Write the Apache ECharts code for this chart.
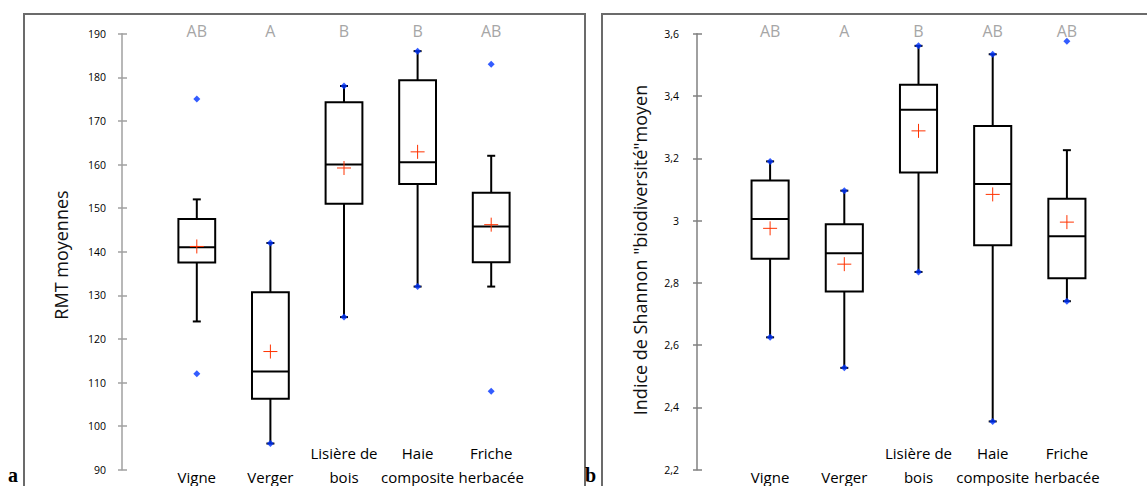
<!DOCTYPE html>
<html>
<head>
<meta charset="utf-8">
<script src="https://cdn.jsdelivr.net/npm/echarts@6/dist/echarts.min.js"></script>
<style>
html,body{margin:0;padding:0;background:#fff;}
#chart{width:1147px;height:486px;}
</style>
</head>
<body>
<div id="chart"></div>
<script>
// ---- Data ----
const categories = ['Vigne', 'Verger', 'Lisière de\nbois', 'Haie\ncomposite', 'Friche\nherbacée'];

// Panel a : RMT moyennes
const rmtLetters = ['AB', 'A', 'B', 'B', 'AB'];
const rmtWhiskerLow = [124, 96, 125, 132, 132];
const rmtQ1 = [137.5, 106.3, 151, 155.5, 137.6];
const rmtMedian = [141, 112.5, 160, 160.5, 145.8];
const rmtQ3 = [147.5, 130.7, 174.3, 179.3, 153.5];
const rmtWhiskerHigh = [152, 142, 178, 186, 162];
const rmtMean = [141.2, 117.1, 159.2, 162.9, 146.2];
const rmtMin = [112, 96, 125, 132, 108];
const rmtMax = [175, 142, 178, 186, 183];
const rmtAxis = { min: 90, max: 190, interval: 10 };

// Panel b : Indice de Shannon
const shLetters = ['AB', 'A', 'B', 'AB', 'AB'];
const shWhiskerLow = [2.625, 2.527, 2.835, 2.355, 2.741];
const shQ1 = [2.877, 2.772, 3.154, 2.921, 2.815];
const shMedian = [3.005, 2.895, 3.356, 3.117, 2.95];
const shQ3 = [3.129, 2.988, 3.436, 3.304, 3.07];
const shWhiskerHigh = [3.19, 3.096, 3.561, 3.534, 3.226];
const shMean = [2.975, 2.86, 3.288, 3.084, 2.995];
const shMin = [2.625, 2.527, 2.835, 2.355, 2.741];
const shMax = [3.19, 3.096, 3.561, 3.534, 3.576];
const shAxis = { min: 2.2, max: 3.6, interval: 0.2 };

const FONT = 'Open Sans';

// ---- Builders ----
function boxData(low, q1, med, q3, high) {
  return categories.map((c, i) => [i, low[i], q1[i], med[i], q3[i], high[i]]);
}
function pointData(mins, maxs) {
  const out = [];
  categories.forEach((c, i) => { out.push([i, maxs[i]]); out.push([i, mins[i]]); });
  return out;
}
function meanData(means) {
  return categories.map((c, i) => [i, means[i]]);
}

function renderBox(params, api) {
  const i = api.value(0);
  const low = api.coord([i, api.value(1)]);
  const q1 = api.coord([i, api.value(2)]);
  const med = api.coord([i, api.value(3)]);
  const q3 = api.coord([i, api.value(4)]);
  const high = api.coord([i, api.value(5)]);
  const bw = api.size([1, 0])[0] * 0.5;
  const x = low[0];
  const cap = 4;
  const st = { stroke: '#000', lineWidth: 2, fill: null };
  return {
    type: 'group',
    children: [
      { type: 'line', shape: { x1: x, y1: high[1], x2: x, y2: q3[1] }, style: st },
      { type: 'line', shape: { x1: x, y1: q1[1], x2: x, y2: low[1] }, style: st },
      { type: 'line', shape: { x1: x - cap, y1: high[1], x2: x + cap, y2: high[1] }, style: st },
      { type: 'line', shape: { x1: x - cap, y1: low[1], x2: x + cap, y2: low[1] }, style: st },
      { type: 'rect', shape: { x: x - bw / 2, y: q3[1], width: bw, height: q1[1] - q3[1] },
        style: { stroke: '#000', lineWidth: 2, fill: '#fff' } },
      { type: 'line', shape: { x1: x - bw / 2, y1: med[1], x2: x + bw / 2, y2: med[1] }, style: st }
    ]
  };
}

function renderMean(params, api) {
  const p = api.coord([api.value(0), api.value(1)]);
  const h = 7;
  const st = { stroke: '#ff3300', lineWidth: 1, fill: null };
  return {
    type: 'group',
    children: [
      { type: 'line', shape: { x1: p[0] - h, y1: p[1], x2: p[0] + h, y2: p[1] }, style: st },
      { type: 'line', shape: { x1: p[0], y1: p[1] - h, x2: p[0], y2: p[1] + h }, style: st }
    ]
  };
}

function fmtComma(v) {
  return String(Math.round(v * 10) / 10).replace('.', ',');
}

function mainY(gridIndex, ax, offset, lineColor, margin, formatter) {
  return {
    type: 'value', gridIndex, min: ax.min, max: ax.max, interval: ax.interval,
    position: 'left', offset,
    splitLine: { show: false },
    axisLine: { show: true, lineStyle: { color: lineColor, width: 1.5 } },
    axisTick: { show: true, inside: false, length: 4, lineStyle: { color: lineColor, width: 1.5 } },
    axisLabel: { show: true, margin, color: '#000', fontSize: 10.5, fontFamily: FONT, formatter }
  };
}
function innerY(gridIndex, ax, offset, lineColor) {
  return {
    type: 'value', gridIndex, min: ax.min, max: ax.max, interval: ax.interval,
    position: 'left', offset,
    splitLine: { show: false },
    axisLine: { show: false },
    axisTick: { show: true, inside: true, length: 5, lineStyle: { color: lineColor, width: 1.5 } },
    axisLabel: { show: false }
  };
}
function bottomX(gridIndex) {
  return {
    type: 'category', gridIndex, data: categories, position: 'bottom',
    axisLine: { show: false }, axisTick: { show: false }, splitLine: { show: false },
    axisLabel: { interval: 0, color: '#000', fontSize: 15, fontFamily: FONT,
      lineHeight: 24, verticalAlign: 'bottom', margin: 19 }
  };
}
function topX(gridIndex, letters) {
  return {
    type: 'category', gridIndex, data: letters, position: 'top',
    axisLine: { show: false }, axisTick: { show: false }, splitLine: { show: false },
    axisLabel: { interval: 0, color: '#a6a6a6', fontSize: 16, fontFamily: FONT,
      verticalAlign: 'middle', margin: 3 }
  };
}

function panelSeries(xIdx, yIdx, low, q1, med, q3, high, means, mins, maxs) {
  return [
    { type: 'custom', xAxisIndex: xIdx, yAxisIndex: yIdx, renderItem: renderBox,
      data: boxData(low, q1, med, q3, high), encode: { x: 0, y: [1, 2, 3, 4, 5] }, z: 2, silent: true },
    { type: 'scatter', xAxisIndex: xIdx, yAxisIndex: yIdx, data: pointData(mins, maxs),
      symbol: 'diamond', symbolSize: 7, itemStyle: { color: '#0033ff' }, z: 3, silent: true },
    { type: 'custom', xAxisIndex: xIdx, yAxisIndex: yIdx, renderItem: renderMean,
      data: meanData(means), encode: { x: 0, y: 1 }, z: 4, silent: true }
  ];
}

const chart = echarts.init(document.getElementById('chart'), null, { renderer: 'svg' });

const option = {
  backgroundColor: '#fff',
  animation: false,
  grid: [
    { left: 160, right: 619, top: 33.7, bottom: 16.3, containLabel: false, outerBoundsMode: 'none' },
    { left: 733, right: 43, top: 33.7, bottom: 16.3, containLabel: false, outerBoundsMode: 'none' }
  ],
  xAxis: [bottomX(0), topX(0, rmtLetters), bottomX(1), topX(1, shLetters)],
  yAxis: [
    mainY(0, rmtAxis, 38, '#a0a0a0', 16, v => String(v)),
    innerY(0, rmtAxis, 38, '#a0a0a0'),
    mainY(1, shAxis, 36, '#808080', 18, fmtComma),
    innerY(1, shAxis, 36, '#808080')
  ],
  series: [
    ...panelSeries(0, 0, rmtWhiskerLow, rmtQ1, rmtMedian, rmtQ3, rmtWhiskerHigh, rmtMean, rmtMin, rmtMax),
    ...panelSeries(2, 2, shWhiskerLow, shQ1, shMedian, shQ3, shWhiskerHigh, shMean, shMin, shMax)
  ],
  graphic: [
    { type: 'rect', shape: { x: 24, y: 14, width: 561, height: 500 },
      style: { fill: null, stroke: '#6b6b6b', lineWidth: 2 }, z: 0, silent: true },
    { type: 'rect', shape: { x: 602, y: 14, width: 600, height: 500 },
      style: { fill: null, stroke: '#6b6b6b', lineWidth: 2 }, z: 0, silent: true },
    { type: 'text', x: 61, y: 255, rotation: Math.PI / 2,
      style: { text: 'RMT moyennes', fontSize: 18, fontFamily: FONT, fill: '#111',
        align: 'center', verticalAlign: 'middle' }, silent: true },
    { type: 'text', x: 640, y: 250, rotation: Math.PI / 2,
      style: { text: 'Indice de Shannon "biodiversité"moyen', fontSize: 18, fontFamily: FONT, fill: '#111',
        align: 'center', verticalAlign: 'middle' }, silent: true },
    { type: 'text', left: 8, bottom: 1, z: 10,
      style: { text: 'a', fontSize: 20, fontWeight: 'bold', fontFamily: 'Liberation Serif', fill: '#000' },
      silent: true },
    { type: 'text', left: 585, bottom: 1, z: 10,
      style: { text: 'b', fontSize: 20, fontWeight: 'bold', fontFamily: 'Liberation Serif', fill: '#000' },
      silent: true }
  ]
};
chart.setOption(option);
</script>
</body>
</html>
